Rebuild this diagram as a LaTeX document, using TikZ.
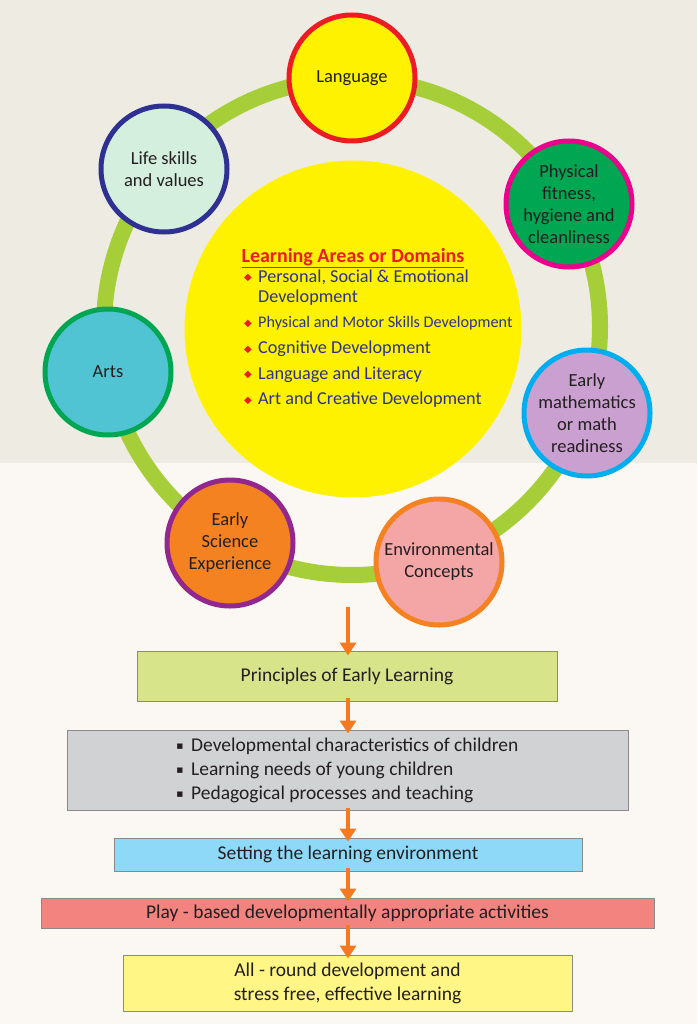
\documentclass[tikz,border=0pt]{standalone}
\usepackage{fontspec}
\setmainfont{Carlito}
\newfontfamily\symfont{DejaVu Sans}
\usetikzlibrary{arrows.meta}
\definecolor{bgtop}{HTML}{EEECE2}
\definecolor{bgbot}{HTML}{FBF8F3}
\definecolor{ringgreen}{HTML}{A6CE39}
\definecolor{cyellow}{HTML}{FFF200}
\definecolor{cred}{HTML}{ED1C24}
\definecolor{cgreen}{HTML}{00A651}
\definecolor{cmagenta}{HTML}{EC008C}
\definecolor{clilac}{HTML}{C9A0CF}
\definecolor{ccyan}{HTML}{00AEEF}
\definecolor{cpink}{HTML}{F4A6A6}
\definecolor{corange}{HTML}{F58220}
\definecolor{cpurple}{HTML}{92278F}
\definecolor{cteal}{HTML}{51C4D3}
\definecolor{cnavy}{HTML}{2E3192}
\definecolor{cmint}{HTML}{D5EFDF}
\definecolor{txt}{HTML}{231F20}
\definecolor{arrowor}{HTML}{F47920}
\definecolor{boxgreen}{HTML}{D7E48A}
\definecolor{boxgray}{HTML}{D1D2D4}
\definecolor{boxblue}{HTML}{8ED8F8}
\definecolor{boxred}{HTML}{F3837E}
\definecolor{boxyellow}{HTML}{FFF685}
\definecolor{boxline}{HTML}{8A8A8A}
\tikzset{
  domaincircle/.style={circle, line width=5pt, minimum size=126pt, inner sep=0pt, align=center,
    text=txt, font=\fontsize{18.5}{22}\selectfont},
  flowbox/.style={draw=boxline, line width=1pt, inner sep=0pt, align=center, text=txt,
    font=\fontsize{19.5}{24}\selectfont},
  flowarrow/.style={draw=arrowor, line width=4.5pt, -{Triangle[length=13pt,width=16pt]}},
  itemtext/.style={anchor=base west, text=cnavy, font=\fontsize{18.2}{20}\selectfont, inner sep=0pt},
  bulletmark/.style={anchor=base west, text=cred, font=\symfont\fontsize{10}{10}\selectfont, inner sep=0pt}
}
\newcommand{\sqb}{\raisebox{2.5pt}{\symfont\fontsize{7}{7}\selectfont ■}\hspace{8pt}}
\begin{document}
\begin{tikzpicture}[x=1pt,y=-1pt]
\useasboundingbox (0,0) rectangle (697,1024);
\fill[bgtop] (0,0) rectangle (697,463);
\fill[bgbot] (0,463) rectangle (697,1024);
% ring
\draw[ringgreen, line width=16pt] (352,327) circle (248);
% central circle
\node[circle, fill=cyellow, minimum size=337pt, inner sep=0pt] (centre) at (353,329) {};
\node[anchor=base, text=cred, font=\fontsize{20}{22}\selectfont\bfseries, inner sep=0pt] (title) at (353,262) {\underline{Learning Areas or Domains}};
\node[bulletmark] (b1) at (244,280) {◆};
\node[itemtext] (t1) at (258,282) {Personal, Social \& Emotional};
\node[itemtext] (t1b) at (258,302) {Development};
\node[bulletmark] (b2) at (244,326) {◆};
\node[itemtext, font=\fontsize{16.2}{18}\selectfont] (t2) at (258,327) {Physical and Motor Skills Development};
\node[bulletmark] (b3) at (244,352) {◆};
\node[itemtext] (t3) at (258,353) {Cognitive Development};
\node[bulletmark] (b4) at (244,377) {◆};
\node[itemtext] (t4) at (258,379) {Language and Literacy};
\node[bulletmark] (b5) at (244,403) {◆};
\node[itemtext] (t5) at (258,404) {Art and Creative Development};
% domain circles
\node[domaincircle, draw=cred, fill=cyellow] (lang) at (352,78) {Language};
\node[domaincircle, draw=cmagenta, fill=cgreen] (phys) at (569,204) {Physical\\fitness,\\hygiene and\\cleanliness};
\node[domaincircle, draw=ccyan, fill=clilac] (math) at (587,413) {Early\\mathematics\\or math\\readiness};
\node[domaincircle, draw=corange, fill=cpink] (env) at (439,562) {Environmental\\Concepts};
\node[domaincircle, draw=cpurple, fill=corange] (sci) at (230,543) {Early\\Science\\Experience};
\node[domaincircle, draw=cgreen, fill=cteal] (arts) at (108,372) {Arts};
\node[domaincircle, draw=cnavy, fill=cmint] (life) at (164,169) {Life skills\\and values};
% flow boxes
\node[flowbox, fill=boxgreen, minimum width=420pt, minimum height=50pt] (princ) at (347,676) {Principles of Early Learning};
\node[flowbox, fill=boxgray, minimum width=561pt, minimum height=80pt, align=left] (chars) at (347.5,770)
  {\sqb Developmental characteristics of children\\
   \sqb Learning needs of young children\\
   \sqb Pedagogical processes and teaching};
\node[flowbox, fill=boxblue, minimum width=468pt, minimum height=33pt] (setting) at (348,854.5) {Setting the learning environment};
\node[flowbox, fill=boxred, minimum width=613pt, minimum height=30pt] (play) at (347.5,913) {Play - based developmentally appropriate activities};
\node[flowbox, fill=boxyellow, minimum width=449pt, minimum height=56pt] (allround) at (347.5,983) {All - round development and\\stress free, effective learning};
% arrows
\coordinate (ringbottom) at (348,607);
\draw[flowarrow] (ringbottom) -- ([yshift=-5pt]princ.north -| ringbottom);
\draw[flowarrow] ([yshift=4pt]princ.south -| ringbottom) -- ([yshift=-4pt]chars.north -| ringbottom);
\draw[flowarrow] ([yshift=3pt]chars.south -| ringbottom) -- ([yshift=-4pt]setting.north -| ringbottom);
\draw[flowarrow] ([yshift=4pt]setting.south -| ringbottom) -- ([yshift=-4pt]play.north -| ringbottom);
\draw[flowarrow] ([yshift=4pt]play.south -| ringbottom) -- ([yshift=-4pt]allround.north -| ringbottom);
\end{tikzpicture}
\end{document}
